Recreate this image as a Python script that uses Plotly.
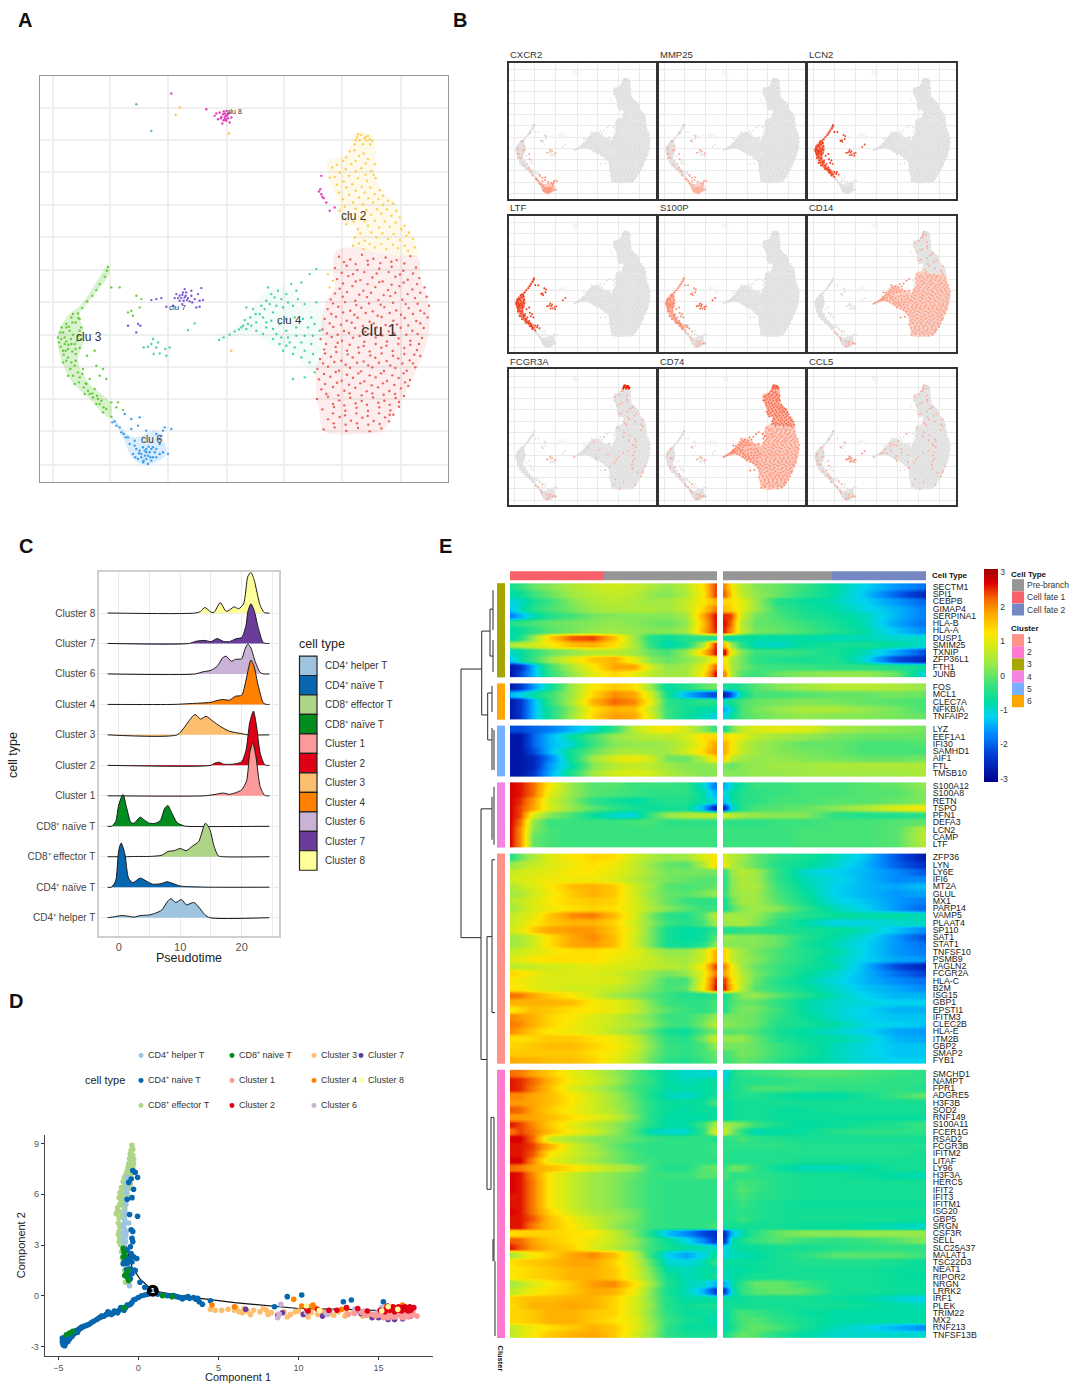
import plotly.graph_objects as go

W, H = 1070, 1385
FONT = "Liberation Sans"

# ---------- Panel A / B : embedding (flat x,y,x,y lists) ----------
CLU1 = [1018,588,1052,596,1087,582,1121,594,1158,590,1191,598,1232,586,1006,622,1041,615,1073,628,1105,612,1139,624,1176,618,1211,630,1249,620,
1012,655,1046,646,1082,658,1118,650,1149,662,1187,648,1224,657,1259,652,1020,684,1058,676,1091,690,1127,679,1165,688,1199,676,1238,686,1275,680,
993,716,1029,708,1067,720,1102,709,1136,718,1172,706,1208,717,1246,712,1281,708,984,745,1016,738,1052,750,1085,741,1119,752,1154,739,1190,749,1227,742,1262,750,1288,735,
975,775,1009,768,1041,780,1074,771,1110,783,1146,769,1181,780,1215,772,1250,781,1284,770,968,806,1001,799,1033,811,1066,802,1097,813,1131,800,1167,812,1203,801,1238,810,1272,802,
963,835,996,829,1027,840,1060,831,1094,843,1128,830,1162,842,1197,833,1232,840,1267,832,973,866,1008,859,1042,870,1076,860,1110,872,1145,861,1179,871,1214,862,1252,868,
961,895,994,888,1025,900,1059,890,1092,902,1127,891,1161,901,1196,893,1230,899,1262,886,953,925,985,918,1018,930,1051,921,1084,932,1118,920,1153,931,1187,922,1221,930,1247,920,
958,956,992,948,1026,960,1060,951,1094,962,1128,950,1162,961,1197,952,1231,958,965,986,1000,979,1034,990,1067,981,1101,992,1135,980,1169,991,1204,983,1226,976,
952,1015,985,1008,1019,1019,1052,1011,1086,1021,1120,1010,1154,1020,1188,1012,1213,1006,968,1046,1003,1039,1037,1050,1071,1041,1105,1051,1139,1040,1172,1049,1198,1038,
985,1076,1020,1069,1054,1080,1088,1071,1122,1081,1156,1070,1181,1062,972,1106,1005,1100,1040,1111,1075,1102,1110,1112,1145,1103,
1033,604,1068,610,1104,600,1142,607,1175,603,1214,608,1026,636,1060,640,1094,634,1131,638,1167,634,1201,641,1240,638,1030,668,1068,662,1104,670,1139,664,1176,672,1212,665,1252,670,
1006,698,1042,694,1079,702,1114,696,1152,703,1187,696,1224,700,1262,696,1000,728,1036,724,1070,733,1108,728,1143,732,1180,726,1218,730,1254,729,995,760,1030,755,1064,762,1098,757,1134,765,1170,757,1204,762,1240,760,1274,758,
990,788,1024,792,1056,786,1090,796,1122,788,1158,793,1192,791,1226,794,1262,788,982,818,1014,822,1048,817,1080,826,1114,819,1148,824,1184,818,1220,822,1254,820,979,850,1014,846,1050,852,1092,856,1128,850,1160,855,1196,850,1232,852,1258,850,
976,878,1010,874,1044,881,1078,876,1112,884,1146,878,1180,885,1214,880,1244,882,970,908,1004,904,1038,912,1072,906,1106,914,1138,906,1172,914,1208,908,1240,908,973,940,1008,934,1042,942,1076,938,1110,944,1144,938,1178,944,1212,938,
976,970,1012,966,1048,972,1082,968,1116,974,1150,968,1184,973,1216,965,980,1000,1016,1004,1050,998,1086,1004,1118,998,1152,1002,1186,1000,1000,1030,1034,1034,1068,1028,1102,1032,1136,1026,1170,1032,1198,1024,1000,1058,1036,1064,1070,1058,1104,1066,1138,1058,1170,1062,1002,1088,1038,1092,1072,1088,1106,1092,1140,1090,1168,1082]
CLU2 = [1050,272,1078,285,1105,295,1125,310,1030,300,1055,310,1085,322,1115,330,998,320,1020,335,1048,345,1075,352,1102,360,1128,352,990,350,1012,372,1040,380,1068,390,1095,395,1125,400,1150,405,1030,415,1060,425,1090,430,1120,425,1150,432,1180,428,1020,450,1050,460,1085,470,1115,462,1145,458,1175,465,1200,470,1040,490,1075,505,1105,495,1138,500,1170,498,1205,505,1228,515,1065,530,1095,540,1130,530,1165,535,1200,538,1240,535,1060,555,1092,565,1125,560,1160,565,1195,562,1225,570,985,640,1000,660,990,680,
1064,268,1092,278,1040,290,1068,300,1098,308,1012,312,1038,325,1068,332,1098,342,1122,342,1005,348,1032,362,1058,370,1086,378,1112,380,1140,388,1018,395,1048,402,1078,410,1106,412,1136,415,1165,420,1035,438,1068,444,1100,448,1132,445,1162,446,1190,450,1030,470,1062,482,1095,482,1125,480,1155,482,1188,485,1215,495,1082,518,1115,515,1148,518,1182,520,1220,525,1078,548,1110,550,1145,550,1180,552,1215,555,1245,560]
TIP2 = [1075,220,1098,228,1085,222,1110,235,1065,250,1095,232,1118,240,1072,230,1090,250,1100,240,1080,238,1105,225,1068,238,1112,250]
CLU4 = [658,838,672,830,690,822,705,812,718,806,730,795,745,790,735,778,752,770,768,760,740,740,785,735,800,720,815,700,805,680,835,690,860,700,890,690,905,665,875,670,930,640,950,625,790,770,820,755,850,740,880,735,915,730,950,725,770,810,800,800,830,820,860,810,890,800,925,800,945,790,960,810,840,850,870,845,905,845,935,850,850,870,880,880,905,890,930,905,945,935,915,950,880,955,
725,800,740,805,755,795,770,785,780,760,795,745,810,730,825,710,845,715,830,735,865,725,895,715,760,745,800,785,815,780,840,790,860,775,885,770,910,775,935,770,820,835,845,830,865,830,890,825,915,825,940,825,860,855,885,860,915,870,940,880,820,805,790,820]
CLU5 = [460,835,445,858,470,860,480,878,497,865,510,860,462,880,500,885,432,860,565,808,585,788,455,850,475,845]
CLU3 = [325,618,322,630,315,648,300,670,290,688,278,705,262,722,248,742,235,758,215,770,228,785,200,790,245,800,182,815,210,810,235,825,195,830,178,845,215,850,240,862,190,870,228,880,205,890,262,885,285,870,190,905,225,915,250,925,290,915,310,925,205,945,240,950,270,955,300,945,225,970,252,980,285,985,320,955,255,1000,280,1010,305,1020,335,1025,290,1030,320,1045,310,1055,335,1068,355,1025,350,1040,370,1048,335,680,360,680,410,705,425,715,420,740,395,750,400,765,385,755,200,800,185,835,205,865,215,905,235,935,260,970,225,850,245,835,195,850,175,830,270,1000,295,1015,240,775,
218,785,208,798,190,815,220,822,200,842,183,858,232,840,206,852,192,882,218,872,200,900,212,925,228,900,220,945,238,965,248,940,265,990,258,968,278,998,300,1030,292,1005,312,1040,220,760,236,772,186,800,240,810,198,870,214,835,228,865]
CLU6 = [338,1085,350,1095,365,1115,378,1130,390,1150,405,1140,420,1170,440,1165,460,1160,480,1150,490,1110,485,1125,505,1180,515,1105,400,1180,415,1195,430,1205,445,1185,455,1200,470,1190,490,1175,425,1180,440,1195,410,1165,450,1175,435,1170,465,1175,445,1210,480,1180,420,1070,415,1095,375,1060,395,1075,440,1110,470,1120,395,1105,
430,1160,447,1158,425,1190,436,1185,452,1190,418,1178,407,1190,460,1190,432,1200,440,1175,470,1165,455,1165,385,1130,372,1120,405,1155,345,1082,360,1100,480,1135,495,1100]
CLU7 = [555,710,548,702,560,695,540,705,565,712,552,720,530,700,575,690,585,715,600,720,610,718,605,682,470,715,485,712,455,718,500,738,520,735,590,740,600,738,555,685,540,720,570,722,415,790,422,795,385,795,410,815,545,712,558,705,550,695,562,718,535,712,575,705,525,712,595,700,578,725,548,730]
CLU8 = [678,165,670,160,685,172,660,155,672,178,690,155,680,150,645,165,655,175,668,188,690,185,695,170,620,145,675,170,665,168,680,180,515,98,965,345,958,392,965,400,972,412,980,425,1005,440,990,450,672,152,684,160,676,158,664,172,682,165,650,158,678,175,962,385,968,408]
STRAY_GOLD = [540,140,528,162,688,218,695,870]
STRAY_BLUE = [410,130,455,210]

# cluster outlines of the dense zones
HULL1 = [1010,570,1080,560,1130,575,1200,585,1255,590,1262,650,1280,700,1290,760,1285,830,1270,880,1240,950,1210,1010,1180,1060,1150,1110,1080,1120,1000,1120,970,1110,960,1060,950,1000,950,920,975,860,965,790,980,720,1005,680,1000,620]
HULL2 = [1070,215,1115,225,1130,300,1125,340,1150,395,1190,430,1205,490,1240,530,1255,585,1200,585,1130,575,1060,555,1070,500,1025,480,1015,420,985,340,985,300,1040,280]
HULL4 = [660,835,740,770,800,690,860,680,900,720,965,740,960,900,940,930,880,880,830,860,760,820,700,830]
HULL3 = [325,615,330,635,265,725,240,760,255,830,235,900,270,970,335,1030,330,1070,265,1010,215,960,180,880,175,820,200,770,250,725]
HULL6 = [335,1065,400,1130,470,1110,500,1180,440,1212,400,1195,370,1130]

GROUP_COLORS = {"clu1":"#E84A43","clu2":"#FFC733","tip":"#FFC733","clu3":"#54C41E","clu4":"#2BCB9C","clu5":"#2BCB9C","clu6":"#1E90F0","clu7":"#6A3FD0","clu8":"#E020B0"}
GROUP_POINTS = {"clu1":CLU1,"clu2":CLU2,"tip":TIP2,"clu3":CLU3,"clu4":CLU4,"clu5":CLU5,"clu6":CLU6,"clu7":CLU7,"clu8":CLU8}
GROUP_HULLS = {"clu1":HULL1,"clu2":HULL2,"clu3":HULL3,"clu4":HULL4,"clu6":HULL6}
HULL_ALPHA = {"clu1":.10,"clu2":.10,"clu3":.22,"clu4":.05,"clu6":.16}
CLUSTER_LABELS = [("clu 1",1138,810,17),("clu 2",1062,465,12),("clu 3",268,830,12),("clu 4",868,778,11.5),("clu 6",458,1135,10),("clu 7",533,740,8),("clu 8",703,152,7)]
GRID_X = [160,332,506,683,853,1027,1204]
GRID_Y = [140,238,334,432,530,627,725,822,918,1016,1112,1212]

GENES_B = ["CXCR2","MMP25","LCN2","LTF","S100P","CD14","FCGR3A","CD74","CCL5"]
GROUP_ORDER = ["clu1","clu2","tip","clu3","clu4","clu5","clu6"]
EXPR = {
"CXCR2": [0,0,0,.1,0,.15,.5],
"MMP25": [0,0,0,.12,0,.15,.35],
"LCN2":  [0,0,0,.9,0,.8,0],
"LTF":   [0,0,0,.9,0,.8,0],
"S100P": [0,0,0,.55,0,.7,.2],
"CD14":  [.45,.15,.15,0,.5,0,.1],
"FCGR3A":[.05,.2,1.0,0,.06,.1,.22],
"CD74":  [.5,.72,.72,.08,.6,.1,.25],
"CCL5":  [.06,.1,.1,.1,.28,.5,.12],
}

# ---------- Panel C : ridgeline ----------
RIDGE_NAMES = ["CD4⁺ helper T","CD4⁺ naïve T","CD8⁺ effector T","CD8⁺ naïve T","Cluster 1","Cluster 2","Cluster 3","Cluster 4","Cluster 6","Cluster 7","Cluster 8"]
RIDGE_COLORS = ["#9EC5E0","#0666AE","#AED488","#008C1E","#FB9A99","#E00016","#FDBF6F","#FF7F00","#CAB2D6","#6A3D9A","#FFFF99"]
RIDGE_X = [
[-1.8,-1,.5,1.5,2.5,3.5,5,6,7,8,8.5,9.3,10.2,11,12.2,13,14,14.8,24.5],
[-1.8,-1.2,-.5,0,.4,1,1.6,2.3,3.5,4.5,5.5,7,7.8,8.7,10,11,15,24.5],
[-1.8,1,3,5,7,8,9,10,11,12,13,14.1,14.8,15.5,16.2,17,24.5],
[-1.8,-1.2,-.5,0,.7,1.3,2,2.5,3.5,4.2,5,6,6.8,7.5,8,8.6,9.5,10.5,11,24.5],
[-1.8,14,15.5,17,18,19,20,20.8,21.3,21.8,22.3,23,23.7,24,24.5],
[-1.8,15,15.5,16.3,17,18,19,20,20.7,21.3,21.9,22.4,23,23.7,24,24.5],
[-1.8,9.5,10.5,11.5,12.4,13.3,14.2,15.3,16.5,18,20,21,24.5],
[-1.8,9,11,13,15,16,17,18,19,20,20.7,21.5,22,22.7,23.5,24,24.5],
[-1.8,12.5,13.5,15,16,17,17.5,18.3,19,20,20.5,21,21.5,22.2,23,23.5,24.5],
[-1.8,11.5,12.5,14,15,16,17,18,19,20,20.7,21,21.5,22,22.7,23.5,24,24.5],
[-1.8,12.5,13.3,14,15,15.5,16.5,17.5,18.8,19.5,20.3,21,21.5,22,23,23.7,24.5],
]
RIDGE_H = [
[0,.02,.07,.05,.02,.07,.09,.15,.25,.55,.62,.5,.6,.42,.5,.35,.1,0,0],
[0,0,.2,1.2,1.45,1.1,.3,.15,.3,.2,.1,.12,.18,.13,.04,.02,0,0],
[0,0,.01,.01,.05,.17,.2,.27,.2,.35,.5,1.1,.9,.35,.03,0,0],
[0,0,.15,.7,1.04,.6,.12,.1,.3,.2,.1,.1,.2,.6,.68,.45,.12,.02,0,0],
[0,0,.04,.09,.05,.1,.2,.5,1.4,1.74,1.3,.3,.02,0,0],
[0,0,.06,.1,.04,.03,.05,.12,.5,1.4,1.78,1.3,.4,.03,0,0],
[0,0,.2,.48,.67,.52,.61,.45,.28,.12,.04,0,0],
[0,0,.02,.04,.07,.13,.16,.14,.27,.3,.8,1.45,1.25,.6,.05,0,0],
[0,0,.06,.12,.25,.55,.58,.42,.48,.5,.8,.98,.85,.4,.05,0,0],
[0,0,.07,.1,.06,.16,.07,.06,.15,.2,.6,1.05,1.3,1.1,.5,.03,0,0],
[0,0,.05,.18,.03,.02,.34,.05,.2,.14,.3,1.2,1.33,1.1,.25,.01,0],
]

# ---------- Panel D : trajectory (flat x,y lists) ----------
D_NAMES = ["CD4⁺ helper T","CD4⁺ naive T","CD8⁺ effector T","CD8⁺ naive T","Cluster 1","Cluster 2","Cluster 3","Cluster 4","Cluster 6","Cluster 7","Cluster 8"]
D_EFFECTOR = [-.4,8.9,-.45,8.6,-.5,8.4,-.35,8.3,-.55,8.1,-.4,8,-.6,7.8,-.45,7.7,-.65,7.5,-.5,7.4,-.75,7.2,-.55,7.1,-.8,6.9,-.6,6.8,-.85,6.6,-.7,6.5,-1,6.3,-.75,6.2,-1.05,6,-.85,5.9,-1.1,5.7,-.9,5.6,-1.15,5.4,-.95,5.3,-1.3,5,-1.1,4.95,-1.2,4.6,-1.15,4.1,-1.2,3.8,-1.15,3.4,-1.1,3,-1.05,2.6,-1,2.2,-.9,1.9,-.85,1.5,-.8,.8,
-.35,8.65,-.3,8.05,-.48,8.2,-.3,7.8,-.35,7.55,-.62,7.65,-.4,7.25,-.7,7.35,-.45,6.95,-.88,7,-.5,6.6,-.95,6.75,-.6,6.35,-1.05,6.4,-.7,6,-1.15,6.1,-.8,5.75,-1.2,5.8,-1.05,5.55,-1.3,5.2,-.85,5.15,-1.38,4.85,-1,4.7,-1.25,4.3,-1.25,3.6,-1.2,3.2]
D_HELPER = [-.7,7,-.7,6.4,-.8,5.7,-.85,5,-.85,4.5,-.9,4,-.9,3.6,-.95,3.3,-.9,3,-.85,2.7,-.55,.6,-.6,4.3,-.75,3.8,-.8,3.2,-.72,6.7,-.75,6.1,-.78,5.4,-.82,4.8,-.88,4.25,-.78,3.55,-.85,3.4,-.98,3.7,-.95,4.2]
D_NAIVE4 = [-.35,7.4,-.2,7.3,-.05,7,-.45,6.9,-.6,6.7,-.3,6.3,-.4,5.8,-.7,5.7,-.05,4.7,-.55,4.8,-.45,3.9,-.35,3.8,-.4,3.4,-.35,3.2,-.5,2.9,-.7,2.7,-.45,2.5,-.8,2.3,-.3,2.3,-.6,2.1,-.1,2.2,-.95,1.9,-.5,1.6,-.25,1.5,-.6,1.2,-.2,1.5,.1,.8,.4,.5,
-.85,2.1,-.7,1.9,-.4,2,-.75,1.55,-.4,1.3,-.5,1,-.55,2.2,
-4.75,-2.7,-4.7,-2.9,-4.65,-2.5,-4.55,-2.8,-4.5,-2.6,-4.4,-2.7,-4.35,-2.45,-4.2,-2.3,-4.1,-2.2,-3.9,-2.05,-3.7,-1.95,-3.4,-1.8,-3.1,-1.7,-2.8,-1.5,-2.6,-1.4,-2.3,-1.2,-2,-1.1,-1.8,-1,-1.6,-1.05,-1.4,-.95,-1.2,-.85,-1,-.75,-.8,-.7,-.6,-.55,-.4,-.4,-.2,-.2,0,-.1,.2,0,.4,.05,.6,.1,
-4.75,-2.5,-4.6,-2.65,-4.72,-2.8,-4.6,-2.95,-4.45,-2.45,-4.3,-2.55,-4.5,-2.4,-4.15,-2.4,-4,-2.25,-3.8,-2.15,-3.55,-1.85,-3.25,-1.75,-2.95,-1.6,-2.45,-1.3,-2.15,-1.2,-1.9,-.95,-1.7,-1.1,-1.5,-.9,-1.3,-1,-1.1,-.7,-.9,-.85,-.7,-.55,-.5,-.5,-.3,-.25,
1.5,.05,1.8,0,2,0,2.4,-.05,2.6,-.1,2.9,-.1,3.2,-.15,3.6,-.2,3.8,-.35,4,-.5,4.5,-.3,8.5,-.65,9.3,-.05,10.2,.05,12.8,-.35,13.3,-.25,15.3,-.35,1.2,.1,2.2,.02,2.75,-.18,3.1,-.05,3.45,-.1,3.7,-.15]
D_NAIVE8 = [-.95,2.8,-.9,2.6,-.85,2.4,-.95,2.3,-.75,1.3,-.7,1.1,-.6,.9,-.85,1.2,-.65,1.5,-4.5,-2.3,-4.3,-2.2,-4.1,-2.1,-.9,-.7,1.5,0,2.1,-.05]
D_C3 = [4.5,-.8,4.8,-.85,5.2,-.85,5.6,-.8,6,-.85,6.3,-.95,6.5,-1,6.8,-.9,7.2,-.85,7.6,-.95,8,-.85,8.3,-1,8.7,-1.1,9.1,-.95,9.5,-1.1,10,-.9,10.4,-1.05,10.8,-1,11.2,-1.1,11.6,-1,12,-1.05,12.5,-.95,12.9,-1.2,13.4,-1,14,-1.2,14.4,-1.15,6.1,-.7,6.6,-.75,7,-1.1,7.8,-.75,8.1,-1.1,9.3,-1.25,9.8,-.95,10.6,-1.25,11.4,-.9,12.2,-1.15,13,-1.05]
D_C1 = [13.5,-1.05,14,-1,14.4,-1.05,14.8,-1.2,15.2,-1.05,15.4,-1.2,15.7,-1.1,15.9,-1.25,16.2,-1.1,16.4,-1.2,16.7,-1.05,16.9,-1.1,17.1,-1.15,17.4,-1.2,15.6,-1.3,16.5,-1.3,14.2,-1.15,14.6,-1.1,15,-1.15,15.3,-1.3,15.55,-1,15.8,-1.2,16.05,-1.25,16.3,-1.05,16.6,-1.2,16.85,-1.25,17.15,-1,13.1,-1.1]
D_C2 = [10.5,-.75,10.6,-.9,11.2,-.8,11.9,-.85,12.4,-.85,13,-.7,13.7,-.75,14.3,-.9,15.1,-.85,15.5,-.75,15.7,-.85,15.9,-.65,16.1,-.75,16.3,-.85,16.5,-.7,16.7,-.8,16.9,-.75,17,-.85,17.2,-.7,16,-.95,15.4,-.95,15.75,-.7,16.05,-.85,16.25,-.65,16.45,-.9,16.65,-.65,16.85,-.9,15.55,-.6,16.95,-.65]
D_C4 = [4.6,-.55,6,-.65,9.7,-.2,10.2,-.6,10.6,-.65,10.9,-.55,11,-.7,12.7,-.8,13,-.75,13.6,-.9,15.5,-.65,16,-.7,16.5,-.55]
D_C6 = [8.8,-1.1,8.7,-1.3,8.9,-.5,10.5,-1,11.7,-1,12,-.9,13.5,-.8,14.1,-.9,14.9,-1,15.2,-.7,15.5,-1.1,16.6,-1.2,17,-1,11.8,-1.1,13.9,-.95]
D_C7 = [6.7,-.8,8.7,-1.2,9,-1,10.3,-1.1,11.5,-1.2,13.9,-1.05,14.6,-1.3,15,-1.3,15.6,-1.4,16,-1.4,16.5,-1.35,17,-1.2]
D_C8 = [10.5,-.6,11.3,-.85,15.2,-.9,15.6,-.65,16.2,-.8]
D_SERIES = [(D_EFFECTOR,2),(D_HELPER,0),(D_NAIVE4,1),(D_NAIVE8,3),(D_C3,6),(D_C4,7),(D_C7,9),(D_C6,8),(D_C1,4),(D_C2,5),(D_C8,10)]
TREE_LOW = [-4.8,-2.8,-3,-1.7,-1.5,-1,0,-.2,.9,.3]
TREE_UP = [.9,.3,.1,1,-.4,1.7,-.8,3,-.85,4.6]
TREE_RIGHT = [.9,.3,3,-.05,6,-.4,8.5,-.6,10,-.75,13,-.8,16,-.9]

# ---------- Panel E : heat map (values in tenths; left branch 13 columns | right branch 10 columns) ----------
X_LEFT = [0,.05,.11,.19,.3,.4,.5,.6,.68,.76,.85,.93,.99]
X_RIGHT = [.01,.04,.09,.16,.27,.4,.55,.7,.85,1]
BLOCK_IDS = [3,6,5,4,1,2]
BLOCK_COLORS = {1:"#FF9289",2:"#FF7ACF",3:"#A6A600",4:"#F583E3",5:"#77B0FF",6:"#FFA500"}
BLOCKS = {
3:[("SECTM1",-6,-4,0,2,5,7,8,7,5,3,6,13,24,20,12,6,2,0,-3,-8,-12,-16,-19),
("SPI1",-8,-7,-3,0,4,6,7,6,3,2,5,12,24,22,14,7,3,0,-4,-8,-13,-20,-26),
("CEBPB",-11,-10,-6,-3,2,5,6,5,4,4,7,12,17,14,13,10,4,-5,-7,-9,-12,-16,-20),
("GIMAP4",-13,-9,-5,-2,1,4,5,5,5,4,7,14,21,16,14,10,4,-3,-6,-8,-11,-14,-18),
("SERPINA1",-18,-14,-9,-5,-2,1,2,2,2,2,4,18,26,25,24,8,1,-2,-5,-7,-9,-14,-18),
("HLA-B",-5,-4,-2,0,1,2,3,2,1,0,3,16,26,26,22,6,0,-1,-3,-6,-9,-15,-19),
("HLA-A",-8,-7,-4,-1,1,3,4,3,2,2,4,17,25,25,20,7,1,0,-2,-5,-8,-13,-17),
("DUSP1",-9,-5,3,14,23,24,16,4,-5,-7,-5,-4,-5,-7,-7,-7,-8,-8,-8,-9,-9,-10,-10),
("SMIM25",5,6,8,11,16,17,13,5,-4,-9,-6,5,25,16,4,-4,-9,-10,-7,-6,-6,-8,-10),
("TXNIP",-10,-8,-4,0,3,6,6,4,0,-2,3,15,26,26,10,2,-3,-3,-4,-6,-9,-15,-22),
("ZFP36L1",-13,-8,-3,3,10,15,17,10,2,0,2,6,12,12,5,1,-4,-5,-6,-5,-11,-22,-26),
("FTH1",-28,-25,-14,-3,5,12,18,18,8,3,4,10,22,14,5,1,-2,-3,-3,-4,-4,-5,-7),
("JUNB",-28,-22,-14,-4,3,10,14,11,6,4,4,12,26,20,5,-1,-3,0,2,3,3,0,-12)],
6:[("FOS",-28,-24,-16,-8,4,12,15,13,3,-8,-5,-1,1,-6,-7,-5,-1,2,4,6,6,5,3),
("MCL1",-14,-12,-8,-3,4,14,20,18,8,-6,-14,-19,-22,-26,-20,-8,-2,-2,-1,0,0,1,0),
("CLEC7A",-28,-24,-14,-4,5,17,22,20,10,-4,-6,-4,-5,-8,-6,-2,0,1,2,1,0,-1,-2),
("NFKBIA",-28,-24,-14,-6,3,13,17,16,7,-3,-6,-8,-8,-14,-10,-2,1,3,5,5,3,1,-2),
("TNFAIP2",-28,-24,-14,-6,4,14,19,18,9,-3,-7,-9,-11,-11,-8,-2,0,2,3,2,2,1,0)],
5:[("LYZ",-22,-22,-20,-18,-14,-10,-4,6,10,12,8,2,-3,-6,0,6,9,10,9,5,3,2,1),
("EEF1A1",-28,-28,-20,-14,-8,-2,3,5,6,6,8,13,14,14,12,10,6,4,3,1,0,0,0),
("IFI30",-28,-28,-20,-14,-10,-3,2,3,3,4,7,12,18,17,12,7,4,2,0,0,-2,-2,-1),
("SAMHD1",-28,-28,-22,-14,-6,0,4,5,4,4,8,14,19,17,12,7,4,2,1,0,-2,-2,-2),
("AIF1",-28,-28,-26,-18,-6,4,9,11,8,1,0,6,13,14,7,4,3,3,2,1,0,0,1),
("FTL",-28,-28,-26,-16,-8,2,6,7,6,4,2,2,3,1,0,2,3,4,4,5,5,5,5),
("TMSB10",-28,-28,-24,-15,-5,4,8,9,8,5,3,2,2,2,2,2,3,3,4,4,4,4,5)],
4:[("S100A12",27,26,22,12,3,-1,-1,-3,-3,-3,-4,-10,-18,-14,-10,-6,-3,-3,-2,-2,-1,0,3),
("S100A8",27,26,22,10,3,-1,-2,-3,-4,-4,-4,-8,-14,-11,-8,-5,-4,-3,-2,-2,-1,-1,2),
("RETN",27,25,19,8,2,-4,-6,-8,-6,-5,-5,-8,-11,-13,-8,-5,-4,-2,-2,-1,-1,0,2),
("TSPO",27,24,18,9,3,-1,-4,-6,-7,-6,-6,-14,-26,-24,-12,-5,-2,-1,0,2,5,9,12),
("PFN1",27,24,9,2,-2,-7,-10,-11,-3,3,5,6,6,8,6,4,3,2,2,-4,-5,-5,-4),
("DEFA3",27,22,3,-3,-3,-3,-3,-2,-2,-4,-4,-4,-4,-4,-4,-4,-4,-3,-3,-2,-2,-1,0),
("LCN2",27,20,2,-2,-3,-3,-3,-3,-3,-3,-3,-3,-3,-3,-3,-3,-3,-3,-2,-2,-2,-1,6),
("CAMP",27,20,0,-2,-3,-3,-3,-3,-3,-3,-3,-3,-3,-3,-3,-3,-3,-3,-2,-2,-2,-1,7),
("LTF",27,20,0,-2,-3,-3,-3,-3,-3,-3,-3,-3,-3,-3,-3,-3,-3,-3,-2,-2,-2,-1,6)],
1:[("ZFP36",-5,0,5,9,12,14,13,8,5,3,4,9,12,8,6,4,0,-4,-6,-9,-13,-21,-28),
("LYN",3,5,7,9,11,13,11,7,3,0,-1,5,13,10,6,3,0,-5,-7,-10,-14,-20,-25),
("LY6E",7,8,9,10,12,12,10,7,4,1,1,1,1,-3,3,6,4,-4,-10,-12,-14,-17,-21),
("IFI6",8,9,10,11,11,11,9,6,3,1,0,-1,-1,-4,2,5,4,-4,-9,-11,-14,-17,-17),
("MT2A",5,7,9,12,16,17,15,8,4,-1,-2,-1,0,-4,2,5,5,-3,-8,-12,-14,-15,-13),
("GLUL",4,5,8,11,15,17,15,8,3,0,-1,1,3,-3,2,4,4,-2,-7,-12,-14,-16,-15),
("MX1",6,7,9,12,14,15,14,9,4,0,-3,-4,-4,-6,0,4,4,-1,-6,-11,-13,-16,-18),
("PARP14",4,6,9,11,13,14,13,9,5,2,-1,-3,-3,-6,-2,2,4,2,-4,-9,-12,-16,-20),
("VAMP5",7,8,10,15,20,21,16,9,1,-4,-5,-1,6,4,4,4,3,-2,-5,-7,-8,-8,-9),
("PLAAT4",7,9,12,15,17,17,14,8,2,-3,-5,-2,4,4,4,5,2,-4,-8,-11,-11,-10,-9),
("SP110",8,10,15,18,19,19,15,9,1,-6,-8,-7,-4,-5,-5,-4,-4,-5,-6,-7,-9,-13,-17),
("SAT1",4,5,8,13,18,20,16,8,1,-6,-8,-7,-1,3,3,2,2,0,-5,-8,-11,-16,-22),
("STAT1",4,5,8,13,18,19,16,8,1,-6,-7,-5,2,2,2,2,2,0,-6,-9,-12,-16,-19),
("TNFSF10",7,8,9,11,13,13,12,10,6,3,3,8,17,14,7,4,1,-2,-5,-8,-12,-16,-18),
("PSMB9",9,10,12,13,13,13,11,9,7,5,4,8,17,14,7,4,2,-2,-5,-9,-12,-15,-16),
("TAGLN2",6,7,7,8,9,10,9,8,7,6,5,12,24,20,12,4,0,-3,-6,-8,-14,-22,-27),
("FCGR2A",14,13,11,9,9,9,8,6,3,1,3,10,21,18,12,6,1,-3,-7,-10,-14,-19,-23),
("HLA-C",12,11,10,9,9,9,9,6,2,-2,-2,11,25,24,14,7,0,-5,-8,-11,-14,-17,-19),
("B2M",12,12,10,9,8,8,7,4,1,-2,-1,12,26,25,16,6,-1,-4,-7,-10,-13,-15,-17),
("ISG15",22,21,18,15,12,8,4,2,-1,-3,-5,-5,-4,-6,-2,2,3,-1,-5,-9,-12,-14,-14),
("GBP1",17,17,17,17,16,12,10,7,1,-3,-4,-4,-2,-5,-2,0,0,-4,-8,-10,-11,-12,-12),
("EPSTI1",12,14,16,15,13,12,10,7,2,-1,-3,-4,-2,-5,-1,1,1,-3,-8,-10,-12,-14,-14),
("IFITM3",20,19,17,14,12,9,7,4,1,-3,-3,0,3,1,1,1,0,-4,-7,-10,-12,-13,-13),
("CLEC2B",21,20,17,14,11,9,7,5,2,-2,-3,1,6,2,2,1,0,-5,-6,-8,-11,-12,-13),
("HLA-E",20,18,15,12,11,9,6,3,-1,-6,-7,-2,1,-1,-1,0,-2,-6,-8,-10,-12,-15,-16),
("ITM2B",13,13,14,15,15,13,11,7,1,-4,-5,1,7,3,3,3,0,-5,-7,-8,-10,-14,-15),
("GBP2",14,14,15,16,16,14,12,8,2,-3,-4,-2,3,1,1,1,0,-3,-6,-9,-11,-13,-13),
("SMAP2",15,15,15,15,15,13,11,7,1,-3,-4,-2,0,-2,-1,1,0,-3,-6,-9,-11,-13,-13),
("FYB1",18,17,17,16,16,14,10,6,0,-4,-5,-3,-1,-3,-2,0,-1,-4,-7,-9,-11,-12,-12)],
2:[("SMCHD1",22,21,18,15,10,7,3,-1,-5,-8,-10,-10,-11,-12,-7,-4,-3,-2,-1,-1,-2,-3,-4),
("NAMPT",26,25,22,17,11,8,4,-1,-4,-8,-9,-8,-7,-10,-6,-5,-5,-4,-3,-3,-3,-4,-4),
("FPR1",26,25,21,16,9,6,2,-2,-5,-8,-8,-8,-7,-9,-6,-5,-2,-2,-3,-4,-4,-4,-5),
("ADGRE5",20,20,18,16,12,8,4,-1,-6,-9,-10,-8,-6,-7,-6,-5,-5,-7,-8,-8,-6,-3,0),
("H3F3B",19,19,18,16,12,8,4,0,-5,-7,-7,-7,-2,-8,-7,-6,-6,-6,-6,-6,-6,-6,-6),
("SOD2",23,22,18,15,11,8,5,0,-5,-7,-8,-7,-7,-8,-7,-6,-6,-7,-7,-6,-6,-6,-6),
("RNF149",19,19,18,16,13,10,7,1,-5,-8,-8,-8,-7,-8,-7,-6,-6,-7,-7,-7,-7,-7,-7),
("S100A11",26,24,20,15,10,6,3,-1,-5,-8,-8,-3,5,4,3,1,-3,-6,-8,-7,-6,-5,-3),
("FCER1G",21,24,21,16,11,8,3,-2,-9,-10,-10,-4,9,7,2,-4,-9,-8,-7,-5,-4,-4,-4),
("RSAD2",27,27,22,8,5,2,1,-1,-3,-4,-4,-4,-5,-4,-4,-2,-4,-5,-6,-6,-6,-6,-6),
("FCGR3B",26,26,24,17,8,4,0,-3,-4,-4,-4,-4,-3,-4,-4,-4,-4,-4,-5,-5,-5,-5,-5),
("IFITM2",26,26,23,13,8,5,1,-2,-4,-4,-4,-4,-3,-4,-5,-5,-5,-5,-5,-5,-5,-5,-6),
("LITAF",27,27,20,10,7,4,1,-2,-3,-4,-4,-4,-4,-5,-5,-5,-5,-5,-6,-6,-6,-6,-6),
("LY96",22,21,18,16,13,9,6,3,-3,-5,-5,-1,0,-3,0,0,-4,-7,-9,-9,-8,-6,-6),
("H3F3A",27,26,20,12,7,4,2,0,-3,-3,-3,-1,-1,-2,-4,-4,-4,-5,-6,-6,-7,-8,-9),
("HERC5",27,26,21,12,7,4,2,-1,-3,-4,-4,-4,-4,-4,-4,-2,-3,-5,-6,-6,-6,-6,-6),
("IFIT2",27,26,21,12,7,4,2,-1,-3,-4,-4,-4,-4,-4,-4,-1,-3,-5,-6,-6,-6,-6,-6),
("IFIT3",26,26,21,12,7,4,2,-1,-3,-4,-4,-4,-4,-4,-4,-2,-4,-5,-6,-6,-6,-6,-6),
("IFITM1",26,26,21,12,7,4,2,-1,-3,-4,-4,-4,-4,-5,-5,-3,-5,-6,-7,-7,-7,-7,-7),
("ISG20",27,26,21,14,8,5,3,1,-3,-4,-4,-4,-4,-5,-5,-4,-5,-6,-6,-6,-6,-6,-6),
("GBP5",26,26,23,16,11,7,4,1,-3,-4,-4,-4,-4,-5,-5,-3,-5,-6,-6,-6,-6,-6,-7),
("SRGN",26,26,21,16,12,8,3,0,-3,-4,-4,-4,-2,-6,-6,-6,-6,-6,-7,-7,-8,-9,-10),
("CSF3R",13,14,14,14,13,12,7,1,-6,-13,-17,-22,-25,-24,-14,-9,-4,0,2,2,3,3,3),
("SELL",23,22,18,15,13,10,7,3,-3,-7,-11,-17,-24,-23,-9,-6,-3,-1,-3,-4,-3,-1,2),
("SLC25A37",26,23,19,16,14,9,6,2,-3,-6,-8,-9,-10,-11,-9,-7,-7,-6,-6,-5,-4,-4,-4),
("MALAT1",4,8,12,14,18,20,16,7,-4,-12,-15,-11,-7,-11,-9,-9,-8,-6,-4,-1,-1,-1,-3),
("TSC22D3",13,14,15,16,18,18,14,8,-1,-10,-11,-9,-4,-8,-7,-7,-7,-6,-5,-5,-5,-6,-7),
("NEAT1",11,13,14,15,17,17,15,9,1,-8,-9,-8,-8,-9,-8,-8,-7,-6,-6,-6,-6,-7,-7),
("RIPOR2",12,13,14,15,17,17,15,9,2,-6,-9,-8,-6,-9,-8,-7,-6,-6,-6,-6,-6,-7,-8),
("NRGN",4,6,9,12,15,19,20,13,4,-5,-9,-10,-14,-14,-9,-4,0,0,-3,-6,-6,-7,-7),
("LRRK2",6,8,11,13,15,18,17,11,2,-6,-9,-14,-23,-22,-11,-4,-1,0,-1,-6,-6,-7,-7),
("IRF1",14,15,16,16,17,17,14,9,2,-5,-8,-8,-8,-8,-7,-7,-6,-6,-6,-7,-8,-10,-12),
("PLEK",13,15,17,17,18,17,14,9,3,-5,-7,-6,-6,-7,-6,-6,-6,-6,-6,-6,-7,-8,-9),
("TRIM22",14,14,15,17,17,15,14,9,2,-4,-7,-7,-7,-8,-5,-2,-3,-5,-7,-8,-8,-8,-8),
("MX2",14,14,15,17,17,15,13,10,3,-3,-6,-7,-9,-9,-5,-2,-1,-4,-6,-8,-8,-8,-8),
("RNF213",6,9,11,13,15,17,15,10,4,-4,-7,-7,-7,-9,-6,-2,0,-2,-6,-9,-11,-14,-17),
("TNFSF13B",6,9,12,15,17,18,15,9,3,-4,-6,-6,-6,-6,-3,0,-1,-5,-8,-10,-10,-10,-10)],
}
COLOR_STOPS = [(-3,"#00008B"),(-2.2,"#0040D8"),(-1.6,"#0090FF"),(-1.15,"#00D4F0"),(-.75,"#00DCA0"),(-.25,"#3CE27C"),(.3,"#96E94C"),(.8,"#D2EC18"),(1.2,"#FFE600"),(1.8,"#FFA000"),(2.2,"#F46000"),(2.6,"#DC0000"),(3,"#A00000")]

# ---------- helpers ----------
def xp(x): return x / W
def yp(y): return 1 - y / H
def xdom(a, b): return [xp(a), xp(b)]
def ydom(top, bot): return [yp(bot), yp(top)]
def xs(v): return v[0::2]
def ys(v): return v[1::2]

traces, shapes, annos = [], [], []
layout_axes = {}

def note(x, y, text, size=9, color="#222", anchor="left", bold=False, angle=0):
    annos.append(dict(x=xp(x), y=yp(y), xref="paper", yref="paper", text=f"<b>{text}</b>" if bold else text,
                      showarrow=False, xanchor=anchor, yanchor="middle", textangle=angle,
                      font=dict(size=size, color=color, family=FONT), borderpad=0))

def box(x0, y0, x1, y1, fill, line=None, lw=0):
    shapes.append(dict(type="rect", xref="paper", yref="paper", x0=xp(x0), x1=xp(x1), y0=yp(y0), y1=yp(y1),
                       fillcolor=fill, line=dict(color=line or fill, width=lw)))

def seg(x0, y0, x1, y1, color="#333", w=1):
    shapes.append(dict(type="line", xref="paper", yref="paper", x0=xp(x0), x1=xp(x1), y0=yp(y0), y1=yp(y1),
                       line=dict(color=color, width=w)))

def ramp(v):
    st = [(0,(226,226,226)),(.3,(255,196,180)),(.6,(255,127,96)),(1,(240,32,0))]
    for (a, ca), (b, cb) in zip(st, st[1:]):
        if v <= b:
            t = (v - a) / (b - a)
            return "rgb(%d,%d,%d)" % tuple(round(p + (q - p) * t) for p, q in zip(ca, cb))
    return "rgb(240,32,0)"

def closed(v):
    return v + v[:2]

# ---------- Panel A ----------
layout_axes["xaxis"] = dict(domain=xdom(40, 448), range=[121, 1345], tickvals=GRID_X, showticklabels=False, ticks="",
                            showgrid=True, gridcolor="#EFEFEF", gridwidth=1.5, zeroline=False, showline=True, mirror=True, linecolor="#999", linewidth=1.2, anchor="y")
layout_axes["yaxis"] = dict(domain=ydom(75, 482), range=[1265, 45], tickvals=GRID_Y, showticklabels=False, ticks="",
                            showgrid=True, gridcolor="#EFEFEF", gridwidth=1.5, zeroline=False, showline=True, mirror=True, linecolor="#999", linewidth=1.2, anchor="x")
for g, hull in GROUP_HULLS.items():
    traces.append(go.Scatter(x=xs(closed(hull)), y=ys(closed(hull)), mode="lines", fill="toself", line=dict(width=0, shape="spline"),
                             fillcolor=GROUP_COLORS[g], opacity=HULL_ALPHA[g], xaxis="x", yaxis="y", hoverinfo="skip", showlegend=False))
for g, pts in GROUP_POINTS.items():
    traces.append(go.Scatter(x=xs(pts), y=ys(pts), mode="markers", marker=dict(color=GROUP_COLORS[g], size=2.4, opacity=.85, line=dict(width=0)),
                             xaxis="x", yaxis="y", hoverinfo="skip", showlegend=False))
for pts, col in ((STRAY_GOLD, "#FFC733"), (STRAY_BLUE, "#5AB0D8")):
    traces.append(go.Scatter(x=xs(pts), y=ys(pts), mode="markers", marker=dict(color=col, size=2.4), xaxis="x", yaxis="y", hoverinfo="skip", showlegend=False))
for txt, x, y, s in CLUSTER_LABELS:
    annos.append(dict(x=x, y=y, xref="x", yref="y", text=txt, showarrow=False, font=dict(size=s, color="#333", family=FONT)))

# ---------- Panel B ----------
COLS_B = [(509, 656), (659, 805), (808, 956)]
ROWS_B = [(62, 198), (215, 352), (369, 505)]
for i, gene in enumerate(GENES_B):
    ax = i + 2
    x0, x1 = COLS_B[i % 3]
    y0, y1 = ROWS_B[i // 3]
    xn, yn = f"x{ax}", f"y{ax}"
    layout_axes[f"xaxis{ax}"] = dict(domain=xdom(x0, x1), range=[117, 1338], tickvals=GRID_X, showticklabels=False, ticks="",
                                     showgrid=True, gridcolor="#EAEAEA", gridwidth=1, zeroline=False, showline=True, mirror=True, linecolor="#333", linewidth=1.6, anchor=yn)
    layout_axes[f"yaxis{ax}"] = dict(domain=ydom(y0, y1), range=[1256, 83], tickvals=GRID_Y, showticklabels=False, ticks="",
                                     showgrid=True, gridcolor="#EAEAEA", gridwidth=1, zeroline=False, showline=True, mirror=True, linecolor="#333", linewidth=1.6, anchor=xn)
    note(x0, y0 - 8, gene, size=9.5, color="#333")
    vals = EXPR[gene]
    for g, v in zip(GROUP_ORDER, vals):
        if g in GROUP_HULLS:
            h = closed(GROUP_HULLS[g])
            traces.append(go.Scatter(x=xs(h), y=ys(h), mode="lines", fill="toself", line=dict(width=0, shape="spline"),
                                     fillcolor=ramp(v * .6 if v >= .3 else 0), opacity=.85, xaxis=xn, yaxis=yn, hoverinfo="skip", showlegend=False))
    for g, v in zip(GROUP_ORDER, vals):
        p = GROUP_POINTS[g]
        traces.append(go.Scatter(x=xs(p), y=ys(p), mode="markers", marker=dict(color="#DEDEDE", size=1.8), xaxis=xn, yaxis=yn, hoverinfo="skip", showlegend=False))
        if v > 0:
            px_, py_ = xs(p), ys(p)
            step = 1 if v >= .3 else (4 if v >= .1 else 9)
            traces.append(go.Scatter(x=px_[::step], y=py_[::step], mode="markers", marker=dict(color=ramp(max(v, .4)), size=1.9),
                                     xaxis=xn, yaxis=yn, hoverinfo="skip", showlegend=False))
    for g in ("clu7", "clu8"):
        p = GROUP_POINTS[g]
        traces.append(go.Scatter(x=xs(p), y=ys(p), mode="markers", marker=dict(color="#F2F2F2", size=1.5), xaxis=xn, yaxis=yn, hoverinfo="skip", showlegend=False))

# ---------- Panel C ----------
layout_axes["xaxis11"] = dict(domain=xdom(99, 279), range=[-3.2, 26.06], tickvals=[0,10,20], ticks="",
                              minor=dict(tickvals=[5,15,25], showgrid=True, gridcolor="#EBEBEB", gridwidth=1, ticks=""),
                              tickfont=dict(size=11, color="#555", family=FONT), showgrid=True, gridcolor="#EBEBEB", gridwidth=1, zeroline=False,
                              showline=True, mirror=True, linecolor="#CFCFCF", linewidth=1.5, anchor="y11")
layout_axes["yaxis11"] = dict(domain=ydom(572, 936), range=[0.41, 12.34], tickvals=list(range(1, 12)), ticktext=RIDGE_NAMES, ticks="",
                              tickfont=dict(size=10, color="#444", family=FONT), showgrid=True, gridcolor="#EBEBEB", gridwidth=1, zeroline=False,
                              showline=True, mirror=True, linecolor="#CFCFCF", linewidth=1.5, anchor="x11")
for i in range(10, -1, -1):
    base = i + 1
    traces.append(go.Scatter(x=RIDGE_X[i], y=[base + h for h in RIDGE_H[i]], mode="lines", fill="toself", fillcolor=RIDGE_COLORS[i],
                             line=dict(color="#1A1A1A", width=1, shape="spline", smoothing=.7), xaxis="x11", yaxis="y11", hoverinfo="skip", showlegend=False))
note(189, 958, "Pseudotime", size=12.5, color="#222", anchor="center")
note(13, 755, "cell type", size=12.5, color="#222", anchor="center", angle=-90)
note(298, 644, "cell type", size=12.5, color="#222")
for i, (name, col) in enumerate(zip(RIDGE_NAMES, RIDGE_COLORS)):
    top = 656 + i * 19.5
    box(299.5, top, 317, top + 19.5, col, "#222", 1.2)
    note(324, top + 9.8, name, size=10, color="#333")

# ---------- Panel D ----------
layout_axes["xaxis12"] = dict(domain=xdom(44.7, 433), range=[-5.85, 18.4], tickvals=[-5,0,5,10,15], ticks="outside", ticklen=3, tickcolor="#333",
                              tickfont=dict(size=9, color="#555", family=FONT), showgrid=False, zeroline=False, showline=True, linecolor="#444", linewidth=1, anchor="y12")
layout_axes["yaxis12"] = dict(domain=ydom(1136, 1357), range=[-3.56, 9.48], tickvals=[-3,0,3,6,9], ticktext=["-3","0","3","6","9"], ticks="outside", ticklen=3, tickcolor="#333",
                              tickfont=dict(size=9, color="#555", family=FONT), showgrid=False, zeroline=False, showline=True, linecolor="#444", linewidth=1, anchor="x12")
for arr in (TREE_LOW, TREE_UP, TREE_RIGHT):
    traces.append(go.Scatter(x=xs(arr), y=ys(arr), mode="lines", line=dict(color="#111", width=1.2), xaxis="x12", yaxis="y12", hoverinfo="skip", showlegend=False))
for arr, ci in D_SERIES:
    traces.append(go.Scatter(x=xs(arr), y=ys(arr), mode="markers", marker=dict(color=RIDGE_COLORS[ci], size=5.6, line=dict(width=0)),
                             xaxis="x12", yaxis="y12", hoverinfo="skip", showlegend=False))
traces.append(go.Scatter(x=[.9], y=[.3], mode="markers+text", text=["<b>1</b>"], textposition="middle center", textfont=dict(color="white", size=8, family=FONT),
                         marker=dict(color="black", size=12), xaxis="x12", yaxis="y12", hoverinfo="skip", showlegend=False))
note(238, 1378, "Component 1", size=11, color="#222", anchor="center")
note(21, 1246, "Component 2", size=11, color="#222", anchor="center", angle=-90)
note(84, 1081, "cell type", size=11, color="#222")
LEG_X = [141, 232, 314, 361]
LEG_ROWS = [1056, 1081, 1106]
LEG_POS = [(0,0),(0,1),(0,2),(1,0),(1,1),(1,2),(2,0),(2,1),(2,2),(3,0),(3,1)]
LEG_ORDER = [0,1,2,3,4,5,6,7,8,9,10]
for idx, (c, r) in zip(LEG_ORDER, LEG_POS):
    cx, cy = LEG_X[c], LEG_ROWS[r]
    shapes.append(dict(type="circle", xref="paper", yref="paper", x0=xp(cx - 2.5), x1=xp(cx + 2.5), y0=yp(cy + 2.5), y1=yp(cy - 2.5),
                       fillcolor=RIDGE_COLORS[idx], line=dict(width=0)))
    note(cx + 6, cy, D_NAMES[idx], size=9, color="#333")

# ---------- Panel E ----------
ROW_PX = 7.26
GAP = 6 / ROW_PX
ypos, genes, cursor = [], [], 0.0
for b in BLOCK_IDS:
    rows = BLOCKS[b]
    ys_block = [cursor + k for k in range(len(rows))]
    # each row is sampled twice so the smoothing stays between rows, keeping them distinct
    y_dbl = [p for c in ys_block for p in (c - .25, c + .25)]
    zL = [[v / 10 for v in r[1:14]] for r in rows for _ in (0, 1)]
    zR = [[v / 10 for v in r[14:24]] for r in rows for _ in (0, 1)]
    traces.append(go.Heatmap(x=X_LEFT, y=y_dbl, z=zL, coloraxis="coloraxis", zsmooth="best", xaxis="x13", yaxis="y13", hoverinfo="skip"))
    traces.append(go.Heatmap(x=X_RIGHT, y=y_dbl, z=zR, coloraxis="coloraxis", zsmooth="best", xaxis="x14", yaxis="y14", hoverinfo="skip"))
    ypos += ys_block
    genes += [r[0] for r in rows]
    box(497, 583 + ys_block[0] * ROW_PX, 505, 583 + (ys_block[-1] + 1) * ROW_PX, BLOCK_COLORS[b])
    cursor = ys_block[-1] + 1 + GAP
y_range = [ypos[-1] + .5, -.5]
layout_axes["xaxis13"] = dict(domain=xdom(510, 717), range=[0, 1], visible=False, anchor="y13")
layout_axes["yaxis13"] = dict(domain=ydom(583, 1339), range=y_range, visible=False, anchor="x13")
layout_axes["xaxis14"] = dict(domain=xdom(723, 926), range=[0, 1], visible=False, anchor="y14")
layout_axes["yaxis14"] = dict(domain=ydom(583, 1339), range=y_range, side="right", anchor="x14", tickvals=ypos, ticktext=genes, ticks="outside", ticklen=4, tickcolor="rgba(0,0,0,0)",
                              showgrid=False, zeroline=False, showline=False, tickfont=dict(size=8.8, color="#222", family=FONT))
box(510, 571, 604, 580, "#F8606A")
box(604, 571, 717, 580, "#969696")
box(723, 571, 832, 580, "#969696")
box(832, 571, 926, 580, "#7588C4")
note(931, 575, "Cell Type", size=8, color="#111", bold=True)
note(500.5, 1359, "Cluster", size=7.5, color="#111", anchor="center", bold=True, angle=90)
note(1010, 574, "Cell Type", size=8, color="#111", bold=True)
for i, (name, col) in enumerate((("Pre-branch", "#969696"), ("Cell fate 1", "#F8606A"), ("Cell fate 2", "#7588C4"))):
    top = 579 + i * 12.2
    box(1012, top, 1024, top + 12, col)
    note(1026, top + 6, name, size=8.5, color="#333")
note(1010, 628, "Cluster", size=8, color="#111", bold=True)
for i, k in enumerate((1, 2, 3, 4, 5, 6)):
    top = 634 + i * 12.2
    box(1012, top, 1024, top + 12.2, BLOCK_COLORS[k])
    note(1026, top + 6, str(k), size=8.5, color="#333")

DENDRO = [(461,669,461,938),(461,669,481.7,669),(461,938,481,938),(481.7,631,481.7,715),(481.7,631,490,631),(481.7,715,487.7,715),
(487.7,693,487.7,740),(487.7,693,492,693),(487.7,740,492,740),(492,686,492,712),(492,728,492,770),(490,609,490,656),(490,609,493,609),(490,656,493,656),
(493,590,493,630),(493,640,493,672),(481,809,481,1060),(481,809,492,809),(481,1060,487,1060),(487,937,487,1190),(487,937,492,937),(492,860,492,1013),
(487,1190,491,1190),(491,1118,491,1190),(491,1118,494,1118),(494,1118,494,1262),(493,1240,493,1262),(495,1262,495,1337),(492,797,492,840),(494,787,494,815),(494,815,494,845),
(492,860,495,860),(492,1013,495,1013),(494,730,494,770)]
for d in DENDRO:
    seg(*d, color="#2A2A2A", w=1)

# ---------- Panel letters ----------
for t, x, y in (("A", 17, 19), ("B", 452, 19), ("C", 18, 546), ("D", 8, 1001), ("E", 438, 546)):
    note(x, y, t, size=20, color="#111", bold=True)

c0, c1 = COLOR_STOPS[0][0], COLOR_STOPS[-1][0]
colorscale = [[(v - c0) / (c1 - c0), c] for v, c in COLOR_STOPS]

fig = go.Figure(traces)
fig.update_layout(
    width=W, height=H, margin=dict(l=0, r=0, t=0, b=0, pad=0), paper_bgcolor="white", plot_bgcolor="white",
    font=dict(family=FONT), showlegend=False, shapes=shapes, annotations=annos,
    coloraxis=dict(colorscale=colorscale, cmin=-3.1, cmax=3.1, colorbar=dict(
        x=xp(984), xanchor="left", y=yp(675.5), yanchor="middle", thickness=14, thicknessmode="pixels", len=213, lenmode="pixels",
        outlinewidth=0, xpad=0, ypad=0, tickvals=[-3,-2,-1,0,1,2,3], ticktext=["-3","-2","-1","0","1","2","3"], ticks="", tickfont=dict(size=8.5, color="#333", family=FONT))),
    **layout_axes,
)
fig.write_html("out.html", config=dict(displayModeBar=False), post_script="document.body.style.margin='0';document.documentElement.style.overflow='hidden';")
